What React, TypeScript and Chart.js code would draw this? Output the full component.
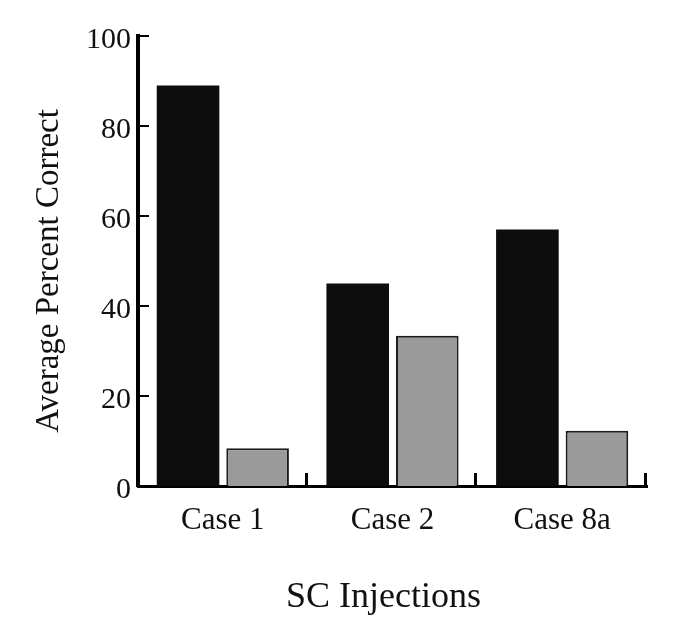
import React, { useEffect, useRef } from "react";
import { Chart, registerables } from "chart.js";

Chart.register(...registerables);

const categories = ["Case 1", "Case 2", "Case 8a"];
const blackValues = [89, 45, 57];
const grayValues = [8.4, 33.4, 12.3];
const yTickValues = [0, 20, 40, 60, 80, 100];
const yTitle = "Average Percent Correct";
const xTitle = "SC Injections";

const FONT = "'Liberation Serif', 'Times New Roman', serif";

export default function App() {
  const ref = useRef<HTMLCanvasElement>(null);

  useEffect(() => {
    const canvas = ref.current;
    if (!canvas) return;

    const innerTicks = {
      id: "innerTicks",
      afterDraw(chart: any) {
        const { ctx, chartArea, scales } = chart;
        const xs = scales.x;
        const ys = scales.y;
        ctx.save();
        ctx.strokeStyle = "#000";
        // y ticks pointing inward
        ctx.lineWidth = 2;
        ctx.beginPath();
        yTickValues
          .filter((v) => v > 0)
          .forEach((v) => {
            const py = Math.round(ys.getPixelForValue(v));
            ctx.moveTo(chartArea.left, py);
            ctx.lineTo(chartArea.left + 11, py);
          });
        ctx.stroke();
        // x ticks at category boundaries pointing up
        ctx.lineWidth = 3;
        const w = (xs.right - xs.left) / categories.length;
        ctx.beginPath();
        categories.forEach((_, i) => {
          const px = Math.round(xs.getPixelForValue(i) + w / 2) - 1.5;
          ctx.moveTo(px, chartArea.bottom);
          ctx.lineTo(px, chartArea.bottom - 13);
        });
        ctx.stroke();

        // axis titles
        ctx.fillStyle = "#111";
        ctx.textAlign = "center";
        ctx.textBaseline = "alphabetic";
        ctx.font = `36px ${FONT}`;
        ctx.fillText(xTitle, (chartArea.left + chartArea.right) / 2 - 9, chartArea.bottom + 121);

        ctx.font = `33px ${FONT}`;
        ctx.translate(chartArea.left - 80, (chartArea.top + chartArea.bottom) / 2 + 10);
        ctx.rotate(-Math.PI / 2);
        ctx.fillText(yTitle, 0, 0);
        ctx.restore();
      },
    };

    const chart = new Chart(canvas, {
      type: "bar",
      data: {
        labels: categories,
        datasets: [
          {
            data: blackValues,
            backgroundColor: "#0d0d0d",
            borderWidth: 0,
            categoryPercentage: 0.82,
            barPercentage: 0.9,
          },
          {
            data: grayValues,
            backgroundColor: "#9a9a9a",
            borderColor: "#1c1c1c",
            borderWidth: 2,
            categoryPercentage: 0.82,
            barPercentage: 0.9,
          },
        ],
      },
      options: {
        responsive: false,
        animation: false,
        devicePixelRatio: 1,
        layout: { padding: { top: 36, right: 48, left: 0, bottom: 0 } },
        plugins: {
          legend: { display: false },
          tooltip: { enabled: false },
        },
        scales: {
          x: {
            grid: { display: false, drawTicks: false },
            border: { display: true, color: "#000", width: 3 },
            ticks: {
              color: "#111",
              font: { family: FONT, size: 31 },
              padding: 16,
              maxRotation: 0,
              autoSkip: false,
            },
            afterFit(scale: any) {
              scale.height = 136;
            },
          },
          y: {
            min: 0,
            max: 100,
            grid: { display: false, drawTicks: false },
            border: { display: true, color: "#000", width: 4 },
            ticks: {
              stepSize: 20,
              color: "#111",
              font: { family: FONT, size: 30 },
              padding: 7,
              labelOffset: 4,
            },
            afterFit(scale: any) {
              scale.width = 138;
            },
          },
        },
      },
      plugins: [innerTicks],
    });

    return () => chart.destroy();
  }, []);

  return (
    <div style={{ position: "absolute", left: 0, top: 0, width: 695, height: 622, background: "#fff" }}>
      <canvas ref={ref} width={695} height={622} />
    </div>
  );
}
